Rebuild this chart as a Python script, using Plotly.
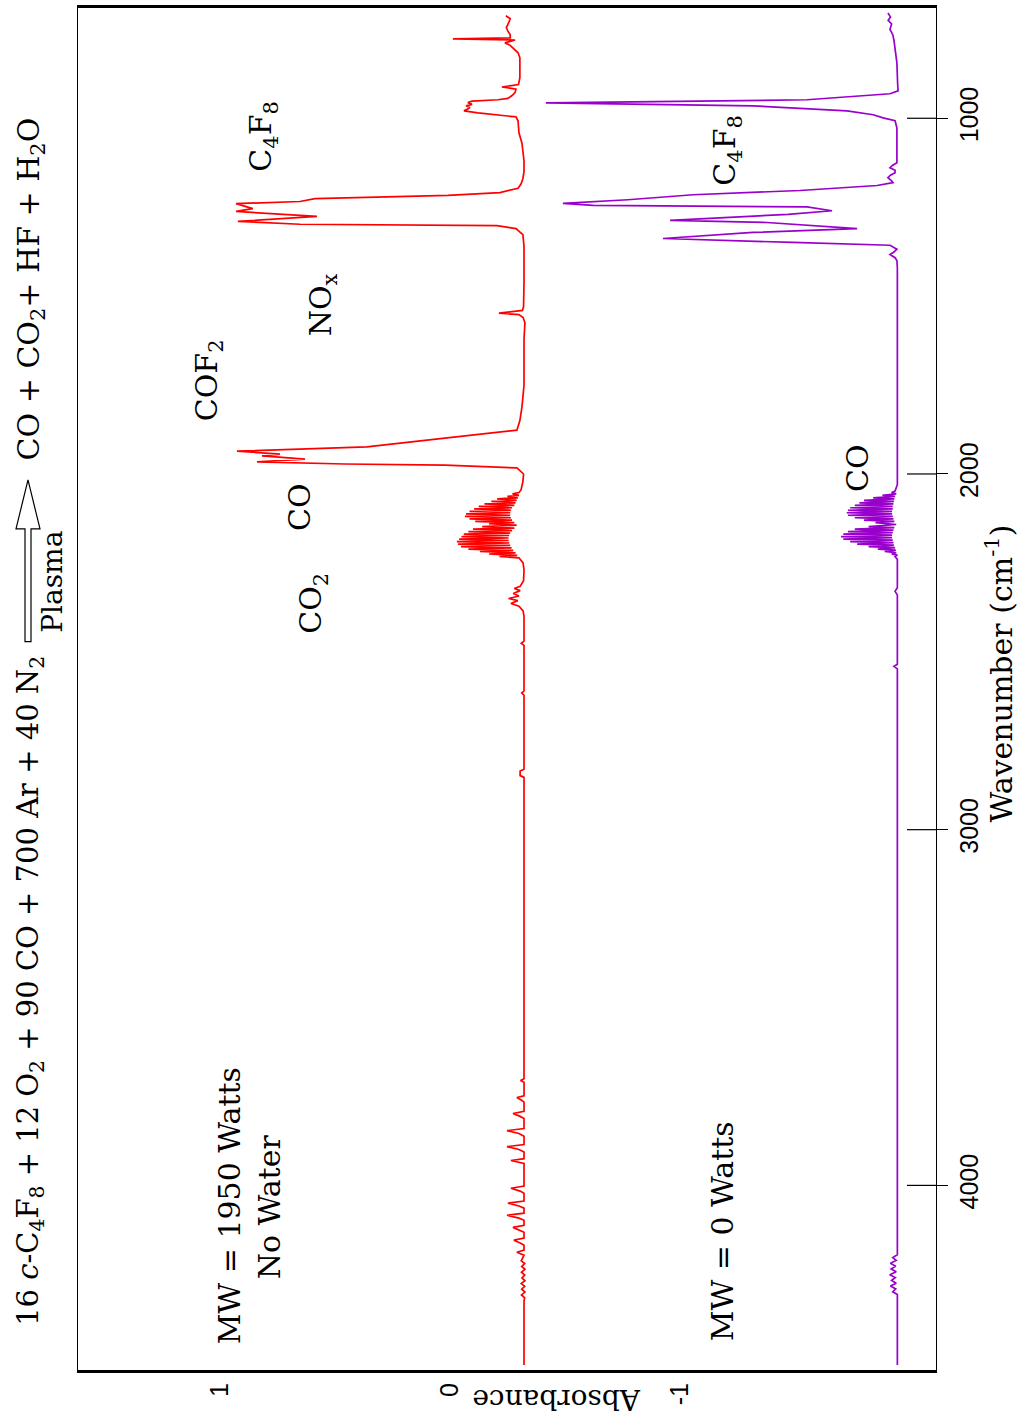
import plotly.graph_objects as go

# ---------------- data ----------------
red_wn = [712, 720, 732, 745, 755, 765, 774, 777, 780, 788, 795, 802, 816, 830, 860, 886, 905, 912, 918, 928,
          936, 944, 948, 952, 956, 961, 965, 970, 975, 979, 985, 990, 996, 1007, 1041, 1070, 1097, 1120, 1150,
          1170, 1185, 1197, 1209, 1217, 1226, 1234, 1240, 1254, 1262, 1276, 1290, 1298, 1302, 1310, 1327, 1360,
          1460, 1530, 1540, 1548, 1552, 1560, 1575, 1620, 1750, 1812, 1850, 1877, 1899, 1924, 1936, 1944, 1949,
          1958, 1966, 1972, 1975, 1983, 2000, 2022, 2045,
          2052, 2056, 2060, 2063, 2067, 2070, 2074, 2077, 2081, 2084, 2088, 2091, 2095, 2098, 2102, 2105, 2109,
          2112, 2116, 2119, 2123, 2126, 2130, 2133, 2137, 2140, 2144, 2148, 2152, 2155, 2159, 2162, 2166, 2169,
          2173, 2176, 2180, 2183, 2187, 2190, 2194, 2197, 2201, 2204, 2208, 2211, 2215, 2218, 2222, 2225, 2229,
          2232, 2236, 2240, 2250,
          2270, 2300, 2316, 2322, 2328, 2336, 2343, 2350, 2356, 2364, 2372, 2385, 2400, 2470, 2476, 2482, 2610,
          2616, 2622, 2830, 2835, 2848, 2853, 3700,
          3705, 3710, 3748, 3753, 3760, 3766, 3792, 3798, 3806, 3812, 3840, 3846, 3854, 3862, 3885, 3891, 3899,
          3906, 3925, 3930, 3938, 4002, 4008, 4016, 4022, 4044, 4050, 4058, 4064, 4078, 4084, 4092, 4098, 4112,
          4118, 4126, 4132, 4148, 4154, 4162, 4168, 4182, 4188, 4196,
          4212, 4220, 4228, 4236, 4244, 4252, 4260, 4268, 4276, 4284, 4292, 4300, 4308, 4316, 4324, 4505]
red_abs = [-0.243, -0.262, -0.255, -0.245, -0.252, -0.262, -0.262, -0.013, -0.283, -0.239, -0.262, -0.275, -0.296,
           -0.304, -0.304, -0.304, -0.298, -0.226, -0.287, -0.283, -0.270, -0.252, -0.209, -0.096, -0.078, -0.096,
           -0.070, -0.087, -0.074, -0.061, -0.122, -0.200, -0.287, -0.296, -0.300, -0.313, -0.317, -0.322, -0.322,
           -0.317, -0.309, -0.296, -0.217, 0.009, 0.587, 0.652, 0.930, 0.857, 0.930, 0.578, 0.922, 0.652, -0.204,
           -0.287, -0.317, -0.322, -0.322, -0.320, -0.315, -0.213, -0.300, -0.318, -0.326, -0.322, -0.322, -0.313,
           -0.304, -0.291, 0.022, 0.361, 0.926, 0.739, 0.817, 0.630, 0.839, 0.457, 0.022, -0.291, -0.320, -0.317,
           -0.309,
           -0.300, -0.272, -0.300, -0.250, -0.295, -0.205, -0.290, -0.180, -0.285, -0.150, -0.280, -0.125, -0.270,
           -0.105, -0.265, -0.085, -0.262, -0.070, -0.262, -0.065, -0.265, -0.085, -0.270, -0.110, -0.280, -0.170,
           -0.290, -0.140, -0.280, -0.100, -0.270, -0.080, -0.262, -0.060, -0.258, -0.050, -0.255, -0.040, -0.255,
           -0.030, -0.258, -0.035, -0.262, -0.048, -0.268, -0.080, -0.275, -0.130, -0.285, -0.170, -0.292, -0.215,
           -0.300, -0.305, -0.318,
           -0.322, -0.320, -0.305, -0.280, -0.305, -0.275, -0.300, -0.255, -0.295, -0.265, -0.300, -0.318, -0.322,
           -0.322, -0.310, -0.322, -0.322, -0.312, -0.322, -0.322, -0.305, -0.305, -0.322, -0.322,
           -0.307, -0.322, -0.322, -0.291, -0.310, -0.322, -0.322, -0.274, -0.305, -0.322, -0.322, -0.248, -0.300,
           -0.322, -0.322, -0.248, -0.300, -0.322, -0.322, -0.265, -0.322, -0.322, -0.265, -0.305, -0.322, -0.322,
           -0.252, -0.300, -0.322, -0.322, -0.248, -0.300, -0.322, -0.322, -0.274, -0.300, -0.322, -0.322, -0.278,
           -0.305, -0.322, -0.322, -0.291, -0.322,
           -0.310, -0.325, -0.312, -0.326, -0.311, -0.325, -0.313, -0.326, -0.310, -0.325, -0.312, -0.326, -0.311,
           -0.325, -0.322, -0.322]

purple_wn = [704, 715, 725, 735, 750, 765, 780, 802, 844, 900, 923, 931, 948, 957, 965, 979, 990, 999, 1007, 1027,
             1125, 1132, 1139, 1146, 1153, 1160, 1167, 1176, 1181, 1189, 1203, 1215, 1229, 1239, 1245, 1249, 1260,
             1270, 1287, 1293, 1310, 1321, 1338, 1349, 1357, 1368, 1376, 1383, 1392, 1400, 1420, 2030, 2040,
             2048, 2052, 2056, 2060, 2063, 2067, 2070, 2074, 2077, 2081, 2084, 2088, 2091, 2095, 2098, 2102, 2105,
             2109, 2112, 2116, 2119, 2123, 2126, 2130, 2133, 2137, 2142, 2148, 2151, 2155, 2158, 2162, 2165, 2169,
             2172, 2176, 2179, 2183, 2186, 2190, 2193, 2197, 2200, 2204, 2207, 2211, 2214, 2218, 2221, 2225, 2228,
             2232, 2240, 2320, 2330, 2340, 2535, 2541, 2548,
             4195, 4203, 4211, 4219, 4227, 4235, 4243, 4251, 4259, 4267, 4275, 4283, 4291, 4299, 4307, 4505]
purple_abs = [-1.904, -1.915, -1.905, -1.920, -1.913, -1.925, -1.930, -1.935, -1.943, -1.946, -1.948, -1.913,
              -1.552, -0.417, -1.317, -1.726, -1.840, -1.883, -1.935, -1.943, -1.943, -1.925, -1.913, -1.935,
              -1.935, -1.915, -1.904, -1.920, -1.926, -1.857, -1.522, -1.057, -0.774, -0.491, -0.622, -1.552,
              -1.661, -1.470, -0.957, -1.378, -1.770, -1.317, -0.926, -1.491, -1.913, -1.943, -1.930, -1.913,
              -1.935, -1.943, -1.945, -1.945, -1.940,
              -1.935, -1.920, -1.940, -1.880, -1.935, -1.840, -1.932, -1.800, -1.930, -1.780, -1.928, -1.760,
              -1.925, -1.740, -1.925, -1.730, -1.922, -1.725, -1.922, -1.730, -1.925, -1.760, -1.928, -1.800,
              -1.932, -1.850, -1.940, -1.820, -1.932, -1.760, -1.928, -1.730, -1.925, -1.710, -1.922, -1.700,
              -1.922, -1.710, -1.925, -1.740, -1.928, -1.770, -1.930, -1.820, -1.935, -1.860, -1.938, -1.890,
              -1.940, -1.920, -1.945, -1.935, -1.945, -1.945, -1.935, -1.945, -1.945, -1.930, -1.945,
              -1.945, -1.925, -1.940, -1.915, -1.938, -1.918, -1.940, -1.912, -1.936, -1.920, -1.940, -1.915,
              -1.938, -1.925, -1.945, -1.945]

wn_ticks = [1000, 2000, 3000, 4000]
wn_tick_text = ["1000", "2000", "3000", "4000"]
abs_ticks = [1, 0, -1]
abs_tick_text = ["1", "0", "-1"]

# ---------------- layout helpers (pixel -> paper) ----------------
W, H = 1018, 1426
L, R, T, B = 78, 936, 5, 1370


def px(x):
    return (x - L) / (R - L)


def py(y):
    return (B - y) / (B - T)


SERIF = "DejaVu Serif, Liberation Serif, serif"
NARROW = "Liberation Sans Narrow, Liberation Sans, Arial, sans-serif"

fig = go.Figure()
fig.add_trace(go.Scatter(x=red_abs, y=red_wn, mode="lines",
                         line=dict(color="#ff0000", width=1.7), hoverinfo="skip", showlegend=False))
fig.add_trace(go.Scatter(x=purple_abs, y=purple_wn, mode="lines",
                         line=dict(color="#9900cc", width=1.7), hoverinfo="skip", showlegend=False))

annots = []


def label(text, x, y, size=30, angle=-90):
    annots.append(dict(text=text, x=px(x), y=py(y), xref="paper", yref="paper",
                       xanchor="center", yanchor="middle", showarrow=False, textangle=angle,
                       font=dict(family=SERIF, size=size, color="black")))


label("C<sub>4</sub>F<sub>8</sub>", 263, 134)
label("NO<sub>x</sub>", 322, 303)
label("COF<sub>2</sub>", 208, 378)
label("CO", 300, 505)
label("CO<sub>2</sub>", 313, 602)
label("C<sub>4</sub>F<sub>8</sub>", 727, 148)
label("CO", 858, 466)
label("MW = 1950 Watts", 229, 1206)
label("No Water", 269, 1207)
label("MW = 0 Watts", 722, 1231)
label("Wavenumber (cm<sup>-1</sup>)", 1000, 672)
label("Absorbance", 557, 1399, size=28, angle=180)
label("16 <i>c</i>-C<sub>4</sub>F<sub>8</sub> + 12 O<sub>2</sub> + 90 CO + 700 Ar + 40 N<sub>2</sub>", 30, 990, size=29)
label("CO + CO<sub>2</sub>+ HF + H<sub>2</sub>O", 30, 287, size=30)
label("Plasma", 53, 580, size=28)

shapes = []
# hollow reaction arrow
pts = [(25, 640), (25, 527), (16, 527), (28, 478), (40, 527), (31, 527), (31, 640)]
path = "M " + " L ".join(f"{px(a):.5f},{py(b):.5f}" for a, b in pts) + " Z"
shapes.append(dict(type="path", path=path, xref="paper", yref="paper",
                   line=dict(color="black", width=1.2), fillcolor="rgba(0,0,0,0)"))
# inner part of the wavenumber ticks (they cross the frame)
for v in wn_ticks:
    shapes.append(dict(type="line", xref="paper", yref="y", x0=px(907), x1=1.0, y0=v, y1=v,
                       line=dict(color="black", width=1.2)))

fig.update_layout(
    width=W, height=H, autosize=False,
    margin=dict(l=L, r=W - R, t=T, b=H - B, pad=0),
    paper_bgcolor="white", plot_bgcolor="white",
    annotations=annots, shapes=shapes,
    xaxis=dict(range=[1.617, -2.113], showgrid=False, zeroline=False,
               showline=True, linewidth=3, linecolor="black", mirror=True,
               ticks="", tickvals=abs_ticks, ticktext=abs_tick_text, tickangle=-90,
               tickfont=dict(family=NARROW, size=25, color="black")),
    yaxis=dict(range=[4519, 690], side="right", showgrid=False, zeroline=False,
               showline=True, linewidth=1.2, linecolor="black", mirror=True,
               ticks="outside", ticklen=11, tickwidth=1.2, tickcolor="black",
               tickvals=wn_ticks, ticktext=wn_tick_text, tickangle=-90,
               tickfont=dict(family=NARROW, size=25, color="black")),
)

fig.write_html("out.html")
